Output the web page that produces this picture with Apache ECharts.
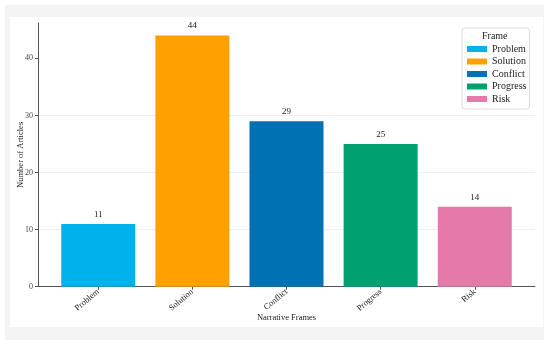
<!DOCTYPE html>
<html>
<head>
<meta charset="utf-8">
<script src="https://cdn.jsdelivr.net/npm/echarts@6/dist/echarts.min.js"></script>
<style>
html,body{margin:0;padding:0;background:#fff;}
#wrap{position:absolute;left:5px;top:5px;width:539px;height:335px;background:#f4f4f4;}
#card{position:absolute;left:10px;top:17px;width:533px;height:310px;background:#fff;}
#chart{position:absolute;left:0;top:0;width:550px;height:346px;}
</style>
</head>
<body>
<div id="wrap"></div>
<div id="card"></div>
<div id="chart"></div>
<script>
const categories = ['Problem', 'Solution', 'Conflict', 'Progress', 'Risk'];
const values = [11, 44, 29, 25, 14];
const colors = ['#00b2ea', '#fea000', '#0071b2', '#00a071', '#e37aa9'];
const yTicks = [0, 10, 20, 30, 40];

const FONT = '"Liberation Serif", "DejaVu Serif", serif';
const chart = echarts.init(document.getElementById('chart'));

const series = categories.map((c, i) => ({
  name: c,
  type: 'bar',
  barWidth: 74,
  barGap: '-100%',
  itemStyle: { color: colors[i] },
  label: { show: true, position: 'top', distance: 5, fontFamily: FONT, fontSize: 9, color: '#222' },
  data: [[i, values[i]]]
}));

chart.setOption({
  animation: false,
  backgroundColor: 'transparent',
  textStyle: { fontFamily: FONT },
  title: {
    text: 'Frame', left: 482, top: 31,
    padding: 0,
    textStyle: { fontFamily: FONT, fontSize: 10, fontWeight: 'normal', color: '#222' }
  },
  legend: {
    orient: 'vertical', left: 462, top: 28,
    padding: [15, 3, 4, 5],
    borderColor: '#ddd', borderWidth: 1, borderRadius: 3,
    itemWidth: 20, itemHeight: 6, itemGap: 0.5,
    icon: 'rect',
    textStyle: { fontFamily: FONT, fontSize: 10, color: '#222', lineHeight: 12 },
    data: categories
  },
  grid: { left: 38, right: 15, top: 23, bottom: 59.3, outerBoundsMode: 'none', containLabel: false },
  xAxis: {
    type: 'value', min: -0.64, max: 4.64,
    name: 'Narrative Frames', nameLocation: 'middle', nameGap: 27, nameMoveOverlap: false,
    nameTextStyle: { fontFamily: FONT, fontSize: 8.5, color: '#222' },
    axisLine: { show: true, onZero: false, lineStyle: { color: '#555', width: 1 } },
    axisTick: { show: true, customValues: [0,1,2,3,4], length: 3, lineStyle: { color: '#555' } },
    axisLabel: {
      customValues: [0,1,2,3,4], rotate: 40, fontFamily: FONT, fontSize: 8.5, color: '#222', margin: 4,
      formatter: v => categories[Math.round(v)]
    },
    splitLine: { show: false }
  },
  yAxis: {
    type: 'value', min: 0, max: 46.2,
    name: 'Number of Articles', nameLocation: 'middle', nameGap: 13, nameMoveOverlap: false,
    nameTextStyle: { fontFamily: FONT, fontSize: 8.5, color: '#222' },
    axisLine: { show: true, onZero: false, lineStyle: { color: '#555', width: 1 } },
    axisTick: { show: true, customValues: yTicks, length: 3, lineStyle: { color: '#555' } },
    axisLabel: { customValues: yTicks, fontFamily: FONT, fontSize: 8, color: '#444', margin: 5 },
    splitLine: { show: true, showMaxLine: false, lineStyle: { color: '#f0f0f0', width: 1 } }
  },
  series: series
});
</script>
</body>
</html>
